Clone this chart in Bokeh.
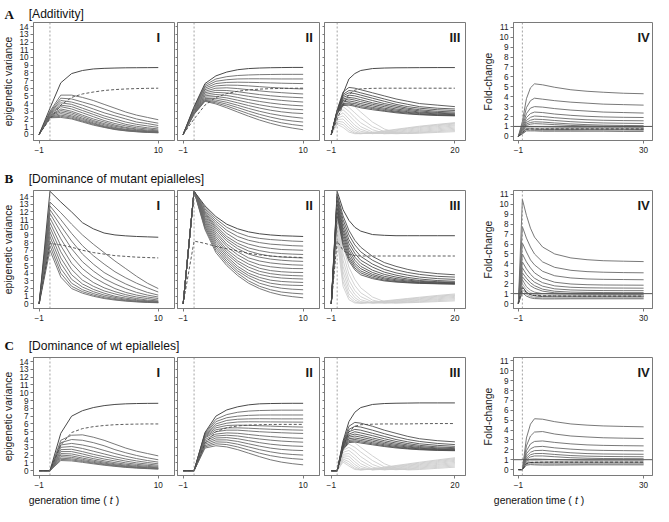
from bokeh.plotting import figure
from bokeh.layouts import column, row
from bokeh.models import Range1d, FixedTicker, Span, Label
from bokeh.embed import file_html
from bokeh.resources import INLINE
from bokeh.core.properties import value

# ---------------- time grids (generation time t) ----------------
T10 = [-1, 0, 1, 2, 3, 4, 5, 6, 7, 8, 9, 10]
T20 = [-1, 0, 1, 2, 3, 4, 6, 8, 10, 12, 14, 17, 20]
T30 = [-1, 0, 1, 2, 3, 5, 8, 12, 16, 20, 25, 30]

ROW_LETTERS = ["A", "B", "C"]
ROW_TITLES = ["[Additivity]", "[Dominance of mutant epialleles]", "[Dominance of wt epialleles]"]
NUMERALS = ["I", "II", "III", "IV"]
Y_TICKS_VAR = list(range(0, 15))
Y_TICKS_FOLD = list(range(0, 12))
X_TICKS_10 = [-1, 10]
X_TICKS_20 = [-1, 20]
X_TICKS_30 = [-1, 30]
FOLD_REFERENCE = 1
Y_LABEL_VAR = "epigenetic variance"
Y_LABEL_FOLD = "Fold-change"

# ---------------- Row A: additivity ----------------
A1_top = [0, 3.4, 6.7, 7.9, 8.3, 8.5, 8.58, 8.62, 8.65, 8.66, 8.67, 8.68]
A1_dash = [0, 2.0, 3.8, 4.8, 5.25, 5.5, 5.7, 5.82, 5.9, 5.95, 5.98, 6.0]
A1_fam = [
    [0, 3.0, 5.1, 5.1, 4.8, 4.4, 3.9, 3.4, 2.9, 2.5, 2.2, 1.9],
    [0, 2.9, 4.7, 4.6, 4.2, 3.8, 3.3, 2.8, 2.4, 2.0, 1.7, 1.45],
    [0, 2.8, 4.4, 4.2, 3.8, 3.3, 2.8, 2.4, 2.0, 1.6, 1.4, 1.15],
    [0, 2.75, 4.1, 3.9, 3.4, 2.9, 2.4, 2.0, 1.6, 1.3, 1.1, 0.9],
    [0, 2.7, 3.8, 3.6, 3.1, 2.6, 2.1, 1.7, 1.3, 1.05, 0.85, 0.7],
    [0, 2.6, 3.6, 3.3, 2.8, 2.3, 1.8, 1.4, 1.1, 0.85, 0.7, 0.55],
    [0, 2.5, 3.3, 3.0, 2.5, 2.0, 1.6, 1.2, 0.9, 0.7, 0.55, 0.45],
    [0, 2.45, 3.1, 2.8, 2.3, 1.8, 1.4, 1.05, 0.8, 0.6, 0.45, 0.38],
    [0, 2.4, 2.9, 2.6, 2.1, 1.65, 1.25, 0.9, 0.65, 0.5, 0.4, 0.32],
    [0, 2.3, 2.7, 2.4, 1.95, 1.5, 1.1, 0.8, 0.6, 0.45, 0.35, 0.28],
    [0, 2.25, 2.5, 2.25, 1.8, 1.4, 1.0, 0.72, 0.52, 0.4, 0.3, 0.25],
    [0, 2.2, 2.35, 2.1, 1.7, 1.3, 0.95, 0.66, 0.48, 0.36, 0.27, 0.22],
    [0, 2.15, 2.2, 2.0, 1.6, 1.2, 0.9, 0.62, 0.45, 0.33, 0.25, 0.2],
]

A2_top = [0, 3.6, 6.6, 7.6, 8.1, 8.4, 8.55, 8.62, 8.66, 8.68, 8.7, 8.7]
A2_dash = [0, 2.0, 3.8, 4.8, 5.3, 5.6, 5.78, 5.88, 5.94, 5.97, 5.99, 6.0]
A2_fam = [
    [0, 3.5, 6.4, 7.2, 7.5, 7.65, 7.72, 7.76, 7.78, 7.8, 7.8, 7.8],
    [0, 3.4, 6.2, 6.9, 7.1, 7.2, 7.22, 7.22, 7.21, 7.2, 7.2, 7.2],
    [0, 3.3, 6.0, 6.6, 6.75, 6.78, 6.76, 6.73, 6.69, 6.65, 6.62, 6.6],
    [0, 3.2, 5.8, 6.3, 6.4, 6.38, 6.3, 6.2, 6.1, 6.02, 5.95, 5.9],
    [0, 3.1, 5.6, 6.0, 6.05, 5.95, 5.8, 5.65, 5.52, 5.42, 5.33, 5.25],
    [0, 3.0, 5.4, 5.72, 5.7, 5.55, 5.35, 5.17, 5.02, 4.9, 4.82, 4.75],
    [0, 2.95, 5.2, 5.45, 5.38, 5.18, 4.95, 4.74, 4.56, 4.42, 4.3, 4.2],
    [0, 2.9, 5.0, 5.18, 5.05, 4.8, 4.52, 4.28, 4.07, 3.9, 3.78, 3.7],
    [0, 2.85, 4.82, 4.92, 4.74, 4.44, 4.12, 3.84, 3.6, 3.41, 3.28, 3.2],
    [0, 2.8, 4.65, 4.68, 4.45, 4.1, 3.74, 3.42, 3.14, 2.93, 2.78, 2.7],
    [0, 2.75, 4.52, 4.46, 4.17, 3.78, 3.37, 3.0, 2.68, 2.43, 2.25, 2.1],
    [0, 2.7, 4.42, 4.27, 3.92, 3.48, 3.02, 2.6, 2.24, 1.94, 1.74, 1.6],
    [0, 2.65, 4.35, 4.1, 3.68, 3.18, 2.68, 2.22, 1.82, 1.5, 1.27, 1.1],
    [0, 2.6, 4.3, 3.95, 3.45, 2.9, 2.36, 1.86, 1.44, 1.08, 0.82, 0.6],
]

A3_top = [0, 3.0, 5.3, 7.2, 7.9, 8.3, 8.55, 8.62, 8.65, 8.66, 8.67, 8.68, 8.68]
A3_dash = [0, 2.0, 3.8, 5.2, 5.75, 5.92, 5.98, 6.0, 6.0, 6.0, 6.0, 6.0, 6.0]
A3_dark = [
    [0, 3.2, 5.5, 6.1, 6.0, 5.8, 5.4, 5.0, 4.6, 4.3, 4.0, 3.8, 3.6],
    [0, 3.1, 5.2, 5.7, 5.6, 5.4, 5.0, 4.6, 4.2, 3.9, 3.6, 3.4, 3.3],
    [0, 3.0, 5.0, 5.4, 5.3, 5.1, 4.7, 4.3, 3.9, 3.6, 3.4, 3.2, 3.1],
    [0, 3.0, 4.8, 5.1, 5.0, 4.8, 4.4, 4.0, 3.7, 3.4, 3.2, 3.0, 2.9],
    [0, 2.9, 4.6, 4.8, 4.7, 4.5, 4.1, 3.8, 3.5, 3.25, 3.05, 2.85, 2.75],
    [0, 2.9, 4.4, 4.6, 4.45, 4.25, 3.9, 3.6, 3.3, 3.1, 2.9, 2.75, 2.65],
    [0, 2.8, 4.2, 4.35, 4.2, 4.0, 3.7, 3.4, 3.15, 2.95, 2.8, 2.65, 2.55],
    [0, 2.8, 4.0, 4.1, 4.0, 3.8, 3.5, 3.25, 3.0, 2.85, 2.7, 2.55, 2.5],
    [0, 2.7, 3.9, 3.95, 3.8, 3.6, 3.35, 3.1, 2.9, 2.75, 2.6, 2.5, 2.45],
    [0, 2.7, 3.75, 3.8, 3.65, 3.45, 3.2, 3.0, 2.8, 2.65, 2.55, 2.45, 2.4],
]
A3_light = [
    [0, 3.1, 4.5, 4.2, 3.6, 2.9, 1.6, 0.7, 0.2, 0.1, 0.15, 0.25, 0.35],
    [0, 2.9, 4.0, 3.5, 2.8, 2.1, 1.0, 0.35, 0.1, 0.12, 0.2, 0.35, 0.5],
    [0, 2.7, 3.6, 3.0, 2.2, 1.5, 0.6, 0.15, 0.08, 0.15, 0.28, 0.45, 0.65],
    [0, 2.5, 3.2, 2.5, 1.7, 1.0, 0.3, 0.08, 0.12, 0.22, 0.38, 0.58, 0.8],
    [0, 2.3, 2.8, 2.0, 1.2, 0.65, 0.15, 0.1, 0.2, 0.32, 0.5, 0.72, 0.95],
    [0, 2.1, 2.4, 1.6, 0.85, 0.4, 0.1, 0.15, 0.28, 0.44, 0.62, 0.86, 1.1],
    [0, 1.9, 2.0, 1.2, 0.55, 0.2, 0.1, 0.22, 0.38, 0.56, 0.75, 1.0, 1.22],
    [0, 1.7, 1.6, 0.85, 0.3, 0.1, 0.15, 0.3, 0.48, 0.68, 0.88, 1.12, 1.35],
    [0, 1.5, 1.25, 0.55, 0.15, 0.08, 0.2, 0.38, 0.58, 0.78, 0.98, 1.22, 1.45],
    [0, 1.3, 0.9, 0.3, 0.08, 0.1, 0.25, 0.45, 0.66, 0.86, 1.06, 1.3, 1.52],
]

A4_upper = [
    [0, 1.5, 3.8, 4.9, 5.3, 5.2, 4.95, 4.7, 4.55, 4.45, 4.35, 4.3],
    [0, 1.2, 2.9, 3.6, 3.85, 3.75, 3.6, 3.45, 3.35, 3.25, 3.2, 3.15],
    [0, 1.0, 2.3, 2.85, 3.0, 2.95, 2.8, 2.65, 2.55, 2.45, 2.4, 2.35],
    [0, 0.85, 1.9, 2.3, 2.45, 2.4, 2.25, 2.12, 2.02, 1.96, 1.92, 1.9],
    [0, 0.75, 1.6, 1.92, 2.05, 2.0, 1.88, 1.76, 1.67, 1.62, 1.59, 1.57],
    [0, 0.65, 1.4, 1.63, 1.73, 1.7, 1.6, 1.48, 1.4, 1.35, 1.32, 1.3],
    [0, 0.58, 1.25, 1.4, 1.47, 1.44, 1.35, 1.25, 1.18, 1.13, 1.1, 1.08],
    [0, 0.5, 1.1, 1.23, 1.28, 1.25, 1.18, 1.1, 1.05, 1.02, 1.0, 0.98],
]
A4_bundle = [
    [0, 0.45, 0.95, 1.0, 0.98, 0.95, 0.92, 0.9, 0.9, 0.9, 0.9, 0.9],
    [0, 0.4, 0.85, 0.88, 0.85, 0.82, 0.8, 0.8, 0.8, 0.8, 0.8, 0.8],
    [0, 0.35, 0.75, 0.75, 0.72, 0.7, 0.7, 0.7, 0.7, 0.7, 0.7, 0.7],
    [0, 0.3, 0.65, 0.65, 0.62, 0.6, 0.6, 0.6, 0.62, 0.62, 0.62, 0.6],
    [0, 0.25, 0.55, 0.55, 0.55, 0.52, 0.52, 0.52, 0.52, 0.52, 0.5, 0.5],
]
A4_dash = [0, 0.35, 0.7, 0.75, 0.75, 0.75, 0.75, 0.75, 0.75, 0.75, 0.75, 0.75]

# ---------------- Row B: dominance of mutant epialleles ----------------
B1_top = [0, 14.7, 13.3, 12.0, 10.6, 9.8, 9.25, 9.0, 8.88, 8.8, 8.75, 8.7]
B1_dash = [0, 7.9, 7.7, 7.4, 7.0, 6.7, 6.5, 6.3, 6.2, 6.1, 6.05, 6.0]
B1_fam = [
    [0, 13.3, 11.9, 10.4, 9.0, 7.8, 6.7, 5.6, 4.6, 3.6, 2.7, 2.0],
    [0, 12.8, 11.0, 9.2, 7.6, 6.3, 5.2, 4.2, 3.4, 2.7, 2.1, 1.55],
    [0, 12.3, 10.2, 8.2, 6.5, 5.2, 4.1, 3.3, 2.6, 2.0, 1.5, 1.15],
    [0, 11.8, 9.4, 7.2, 5.5, 4.3, 3.3, 2.6, 2.0, 1.5, 1.15, 0.9],
    [0, 11.2, 8.5, 6.2, 4.6, 3.5, 2.7, 2.0, 1.5, 1.15, 0.9, 0.7],
    [0, 10.6, 7.6, 5.3, 3.8, 2.8, 2.1, 1.6, 1.2, 0.9, 0.7, 0.5],
    [0, 10.0, 6.8, 4.5, 3.1, 2.3, 1.7, 1.3, 0.95, 0.7, 0.5, 0.38],
    [0, 9.4, 6.0, 3.8, 2.6, 1.9, 1.4, 1.0, 0.75, 0.55, 0.4, 0.3],
    [0, 8.8, 5.3, 3.2, 2.2, 1.6, 1.15, 0.85, 0.6, 0.45, 0.32, 0.24],
    [0, 8.2, 4.6, 2.7, 1.85, 1.35, 0.95, 0.7, 0.5, 0.36, 0.26, 0.2],
    [0, 7.6, 4.0, 2.3, 1.6, 1.15, 0.8, 0.58, 0.42, 0.3, 0.22, 0.17],
    [0, 7.0, 3.5, 2.0, 1.4, 1.0, 0.7, 0.5, 0.36, 0.26, 0.19, 0.15],
]

B2_top = [0, 14.7, 12.8, 11.4, 10.4, 9.8, 9.4, 9.15, 9.0, 8.9, 8.85, 8.8]
B2_dash = [0, 8.2, 7.9, 7.5, 7.2, 6.9, 6.6, 6.4, 6.25, 6.15, 6.1, 6.05]
B2_fam = [
    [0, 14.7, 12.6, 11.1, 10.0, 9.3, 8.8, 8.55, 8.4, 8.3, 8.2, 8.15],
    [0, 14.7, 12.4, 10.8, 9.6, 8.8, 8.3, 8.0, 7.8, 7.7, 7.6, 7.55],
    [0, 14.7, 12.2, 10.5, 9.2, 8.3, 7.8, 7.45, 7.25, 7.1, 7.05, 7.0],
    [0, 14.7, 12.0, 10.2, 8.8, 7.9, 7.3, 6.95, 6.7, 6.57, 6.5, 6.45],
    [0, 14.7, 11.85, 9.95, 8.5, 7.55, 6.9, 6.5, 6.25, 6.12, 6.05, 6.0],
    [0, 14.7, 11.7, 9.7, 8.2, 7.2, 6.5, 6.1, 5.85, 5.7, 5.6, 5.55],
    [0, 14.7, 11.5, 9.4, 7.8, 6.8, 6.0, 5.6, 5.35, 5.2, 5.1, 5.05],
    [0, 14.7, 11.3, 9.1, 7.5, 6.4, 5.6, 5.1, 4.85, 4.7, 4.62, 4.6],
    [0, 14.7, 11.1, 8.8, 7.1, 6.0, 5.2, 4.65, 4.35, 4.2, 4.12, 4.1],
    [0, 14.7, 10.9, 8.5, 6.8, 5.6, 4.8, 4.25, 3.95, 3.78, 3.7, 3.65],
    [0, 14.7, 10.7, 8.2, 6.5, 5.3, 4.4, 3.85, 3.55, 3.38, 3.3, 3.25],
    [0, 14.7, 10.5, 7.9, 6.2, 4.9, 4.0, 3.45, 3.1, 2.93, 2.85, 2.8],
    [0, 14.7, 10.3, 7.6, 5.9, 4.6, 3.7, 3.1, 2.7, 2.5, 2.43, 2.4],
    [0, 14.7, 10.1, 7.3, 5.6, 4.3, 3.4, 2.7, 2.3, 2.05, 1.92, 1.85],
    [0, 14.7, 9.9, 7.0, 5.3, 4.0, 3.0, 2.3, 1.85, 1.55, 1.4, 1.3],
    [0, 14.7, 9.7, 6.7, 5.0, 3.7, 2.7, 2.0, 1.5, 1.15, 0.95, 0.8],
]

B3_top = [0, 14.7, 12.3, 10.9, 10.0, 9.5, 9.05, 8.95, 8.9, 8.9, 8.9, 8.9, 8.9]
B3_dash = [0, 8.2, 7.0, 6.5, 6.3, 6.25, 6.25, 6.25, 6.25, 6.25, 6.25, 6.25, 6.25]
B3_dark = [
    [0, 14.3, 11.5, 9.6, 8.3, 7.4, 6.2, 5.4, 4.9, 4.5, 4.2, 3.95, 3.8],
    [0, 14.0, 11.0, 9.0, 7.7, 6.8, 5.7, 4.95, 4.45, 4.1, 3.85, 3.6, 3.5],
    [0, 13.7, 10.5, 8.4, 7.1, 6.2, 5.2, 4.5, 4.05, 3.75, 3.5, 3.3, 3.2],
    [0, 13.4, 10.0, 7.9, 6.6, 5.7, 4.8, 4.15, 3.75, 3.45, 3.25, 3.05, 2.95],
    [0, 13.1, 9.6, 7.4, 6.1, 5.3, 4.4, 3.85, 3.5, 3.25, 3.05, 2.9, 2.82],
    [0, 12.8, 9.2, 7.0, 5.7, 4.9, 4.1, 3.6, 3.3, 3.1, 2.95, 2.82, 2.75],
    [0, 12.5, 8.8, 6.6, 5.3, 4.6, 3.85, 3.4, 3.15, 2.98, 2.85, 2.75, 2.7],
    [0, 12.2, 8.4, 6.2, 5.0, 4.3, 3.65, 3.25, 3.02, 2.88, 2.78, 2.7, 2.65],
    [0, 11.9, 8.0, 5.9, 4.7, 4.05, 3.45, 3.1, 2.92, 2.8, 2.72, 2.65, 2.6],
    [0, 11.6, 7.6, 5.6, 4.45, 3.8, 3.3, 3.0, 2.85, 2.75, 2.68, 2.62, 2.58],
]
B3_light = [
    [0, 12.5, 7.6, 4.8, 3.2, 2.1, 0.9, 0.3, 0.12, 0.15, 0.2, 0.3, 0.4],
    [0, 12.0, 6.6, 3.9, 2.4, 1.45, 0.5, 0.15, 0.12, 0.2, 0.28, 0.42, 0.55],
    [0, 11.4, 5.7, 3.1, 1.75, 0.95, 0.25, 0.1, 0.18, 0.28, 0.38, 0.55, 0.7],
    [0, 10.8, 4.9, 2.45, 1.25, 0.55, 0.12, 0.15, 0.25, 0.36, 0.48, 0.66, 0.85],
    [0, 10.2, 4.2, 1.85, 0.82, 0.3, 0.1, 0.2, 0.32, 0.45, 0.58, 0.78, 0.98],
    [0, 9.6, 3.5, 1.3, 0.5, 0.15, 0.15, 0.27, 0.4, 0.54, 0.68, 0.9, 1.1],
    [0, 9.0, 2.9, 0.9, 0.25, 0.08, 0.2, 0.33, 0.48, 0.63, 0.78, 1.0, 1.2],
    [0, 8.4, 2.3, 0.55, 0.12, 0.1, 0.24, 0.39, 0.55, 0.71, 0.87, 1.1, 1.3],
]

B4_upper = [
    [0, 10.5, 8.9, 7.6, 6.7, 5.7, 5.0, 4.6, 4.42, 4.32, 4.27, 4.23],
    [0, 7.75, 6.6, 5.7, 5.0, 4.2, 3.65, 3.35, 3.22, 3.16, 3.12, 3.1],
    [0, 6.1, 5.2, 4.4, 3.9, 3.25, 2.8, 2.58, 2.48, 2.44, 2.42, 2.4],
    [0, 5.0, 4.2, 3.6, 3.1, 2.55, 2.15, 1.97, 1.9, 1.87, 1.86, 1.85],
    [0, 4.2, 3.5, 2.95, 2.55, 2.1, 1.78, 1.64, 1.59, 1.57, 1.56, 1.55],
    [0, 3.6, 2.95, 2.5, 2.15, 1.75, 1.48, 1.37, 1.33, 1.31, 1.3, 1.3],
    [0, 3.1, 2.55, 2.1, 1.8, 1.45, 1.24, 1.15, 1.12, 1.11, 1.1, 1.1],
    [0, 2.7, 2.2, 1.8, 1.55, 1.25, 1.08, 1.0, 0.98, 0.97, 0.97, 0.97],
]
B4_bundle = [
    [0, 2.4, 1.7, 1.35, 1.15, 1.0, 0.95, 0.93, 0.92, 0.92, 0.92, 0.92],
    [0, 2.0, 1.4, 1.1, 0.95, 0.85, 0.8, 0.8, 0.8, 0.8, 0.8, 0.8],
    [0, 1.7, 1.15, 0.9, 0.78, 0.7, 0.68, 0.68, 0.68, 0.68, 0.68, 0.68],
    [0, 1.4, 0.95, 0.72, 0.62, 0.57, 0.56, 0.56, 0.57, 0.57, 0.57, 0.57],
    [0, 1.1, 0.75, 0.58, 0.5, 0.47, 0.47, 0.48, 0.48, 0.48, 0.48, 0.48],
]
B4_dash = [0, 1.6, 1.1, 0.9, 0.82, 0.78, 0.76, 0.75, 0.75, 0.75, 0.75, 0.75]

# ---------------- Row C: dominance of wt epialleles ----------------
C1_top = [0, 0, 4.8, 7.0, 7.7, 8.1, 8.35, 8.5, 8.58, 8.62, 8.64, 8.65]
C1_dash = [0, 0, 3.3, 4.9, 5.4, 5.65, 5.8, 5.9, 5.95, 5.98, 6.0, 6.0]
C1_fam = [
    [0, 0, 3.9, 4.55, 4.6, 4.3, 3.9, 3.4, 2.9, 2.5, 2.2, 1.9],
    [0, 0, 3.6, 4.0, 3.9, 3.6, 3.2, 2.7, 2.3, 1.95, 1.65, 1.4],
    [0, 0, 3.3, 3.5, 3.3, 3.0, 2.6, 2.2, 1.85, 1.55, 1.3, 1.1],
    [0, 0, 3.0, 3.1, 2.85, 2.5, 2.15, 1.8, 1.5, 1.25, 1.05, 0.88],
    [0, 0, 2.7, 2.75, 2.45, 2.1, 1.8, 1.5, 1.23, 1.0, 0.85, 0.7],
    [0, 0, 2.45, 2.45, 2.15, 1.8, 1.5, 1.25, 1.0, 0.82, 0.68, 0.56],
    [0, 0, 2.2, 2.15, 1.85, 1.55, 1.27, 1.03, 0.83, 0.67, 0.55, 0.45],
    [0, 0, 2.0, 1.9, 1.62, 1.35, 1.1, 0.88, 0.7, 0.56, 0.45, 0.37],
    [0, 0, 1.8, 1.7, 1.45, 1.2, 0.97, 0.77, 0.6, 0.47, 0.38, 0.31],
    [0, 0, 1.6, 1.52, 1.3, 1.07, 0.86, 0.68, 0.53, 0.41, 0.33, 0.27],
    [0, 0, 1.45, 1.38, 1.18, 0.97, 0.78, 0.61, 0.47, 0.37, 0.29, 0.23],
    [0, 0, 1.3, 1.25, 1.07, 0.88, 0.7, 0.55, 0.42, 0.33, 0.26, 0.2],
]

C2_top = [0, 0, 4.9, 7.0, 7.8, 8.2, 8.45, 8.58, 8.62, 8.64, 8.65, 8.65]
C2_dash = [0, 0, 3.5, 5.0, 5.5, 5.75, 5.85, 5.9, 5.93, 5.94, 5.94, 5.94]
C2_fam = [
    [0, 0, 4.8, 6.6, 7.2, 7.5, 7.65, 7.72, 7.75, 7.77, 7.77, 7.77],
    [0, 0, 4.7, 6.3, 6.8, 7.0, 7.1, 7.14, 7.15, 7.15, 7.15, 7.15],
    [0, 0, 4.6, 6.0, 6.45, 6.6, 6.65, 6.67, 6.66, 6.65, 6.65, 6.65],
    [0, 0, 4.5, 5.75, 6.1, 6.25, 6.28, 6.27, 6.26, 6.25, 6.24, 6.23],
    [0, 0, 4.4, 5.5, 5.8, 5.85, 5.82, 5.77, 5.72, 5.67, 5.63, 5.6],
    [0, 0, 4.3, 5.25, 5.5, 5.5, 5.45, 5.38, 5.32, 5.27, 5.23, 5.2],
    [0, 0, 4.2, 5.0, 5.2, 5.2, 5.1, 5.0, 4.93, 4.87, 4.82, 4.78],
    [0, 0, 4.0, 4.7, 4.85, 4.8, 4.65, 4.5, 4.38, 4.28, 4.2, 4.15],
    [0, 0, 3.8, 4.45, 4.55, 4.45, 4.25, 4.07, 3.92, 3.8, 3.72, 3.66],
    [0, 0, 3.6, 4.2, 4.25, 4.1, 3.85, 3.6, 3.4, 3.26, 3.17, 3.12],
    [0, 0, 3.4, 3.95, 3.95, 3.75, 3.45, 3.15, 2.9, 2.73, 2.63, 2.58],
    [0, 0, 3.2, 3.7, 3.65, 3.4, 3.05, 2.7, 2.42, 2.2, 2.08, 2.0],
    [0, 0, 3.05, 3.45, 3.35, 3.05, 2.65, 2.25, 1.93, 1.7, 1.55, 1.45],
    [0, 0, 2.9, 3.2, 3.05, 2.7, 2.25, 1.8, 1.4, 1.1, 0.9, 0.75],
]

C3_top = [0, 0, 3.8, 6.3, 7.5, 8.1, 8.5, 8.62, 8.66, 8.68, 8.7, 8.7, 8.7]
C3_dash = [0, 0, 3.0, 5.0, 5.7, 5.9, 5.97, 6.0, 6.0, 6.0, 6.03, 6.05, 6.05]
C3_dark = [
    [0, 0, 3.6, 5.7, 6.2, 6.1, 5.7, 5.2, 4.8, 4.4, 4.1, 3.85, 3.7],
    [0, 0, 3.5, 5.3, 5.7, 5.6, 5.2, 4.75, 4.35, 4.0, 3.75, 3.5, 3.35],
    [0, 0, 3.4, 5.0, 5.3, 5.2, 4.8, 4.4, 4.0, 3.7, 3.45, 3.25, 3.12],
    [0, 0, 3.3, 4.7, 5.0, 4.85, 4.5, 4.1, 3.75, 3.48, 3.25, 3.05, 2.95],
    [0, 0, 3.2, 4.5, 4.7, 4.55, 4.2, 3.85, 3.55, 3.3, 3.1, 2.92, 2.83],
    [0, 0, 3.1, 4.3, 4.45, 4.3, 3.98, 3.65, 3.38, 3.15, 2.97, 2.82, 2.74],
    [0, 0, 3.0, 4.1, 4.2, 4.07, 3.78, 3.48, 3.23, 3.03, 2.88, 2.75, 2.68],
    [0, 0, 2.9, 3.9, 4.0, 3.87, 3.6, 3.33, 3.1, 2.93, 2.8, 2.69, 2.63],
    [0, 0, 2.8, 3.75, 3.83, 3.7, 3.45, 3.2, 3.0, 2.85, 2.74, 2.64, 2.59],
    [0, 0, 2.7, 3.6, 3.68, 3.55, 3.32, 3.1, 2.92, 2.79, 2.69, 2.6, 2.56],
]
C3_light = [
    [0, 0, 3.2, 3.9, 3.6, 3.0, 1.9, 0.9, 0.3, 0.1, 0.15, 0.3, 0.45],
    [0, 0, 2.9, 3.4, 3.0, 2.4, 1.3, 0.5, 0.15, 0.15, 0.25, 0.42, 0.6],
    [0, 0, 2.6, 3.0, 2.5, 1.8, 0.8, 0.25, 0.12, 0.22, 0.35, 0.55, 0.75],
    [0, 0, 2.35, 2.6, 2.0, 1.3, 0.45, 0.12, 0.18, 0.3, 0.45, 0.68, 0.9],
    [0, 0, 2.1, 2.2, 1.55, 0.9, 0.2, 0.12, 0.25, 0.4, 0.56, 0.8, 1.05],
    [0, 0, 1.9, 1.85, 1.15, 0.55, 0.1, 0.18, 0.33, 0.5, 0.67, 0.93, 1.2],
    [0, 0, 1.7, 1.5, 0.8, 0.3, 0.12, 0.25, 0.42, 0.6, 0.78, 1.05, 1.33],
    [0, 0, 1.5, 1.15, 0.5, 0.15, 0.15, 0.32, 0.5, 0.69, 0.88, 1.17, 1.45],
    [0, 0, 1.3, 0.85, 0.28, 0.1, 0.2, 0.38, 0.58, 0.78, 0.98, 1.28, 1.56],
    [0, 0, 1.1, 0.6, 0.15, 0.1, 0.25, 0.45, 0.66, 0.87, 1.08, 1.38, 1.66],
]

C4_upper = [
    [0, 0, 3.2, 4.6, 5.15, 5.1, 4.85, 4.62, 4.5, 4.42, 4.37, 4.33],
    [0, 0, 2.4, 3.4, 3.8, 3.85, 3.6, 3.4, 3.3, 3.22, 3.18, 3.15],
    [0, 0, 1.9, 2.6, 2.85, 2.9, 2.75, 2.6, 2.5, 2.45, 2.42, 2.4],
    [0, 0, 1.6, 2.1, 2.3, 2.35, 2.2, 2.07, 1.98, 1.94, 1.92, 1.9],
    [0, 0, 1.35, 1.75, 1.92, 1.95, 1.83, 1.7, 1.62, 1.58, 1.56, 1.55],
    [0, 0, 1.15, 1.5, 1.62, 1.63, 1.53, 1.42, 1.36, 1.33, 1.31, 1.3],
    [0, 0, 1.0, 1.28, 1.38, 1.38, 1.3, 1.2, 1.15, 1.12, 1.11, 1.1],
]
C4_bundle = [
    [0, 0, 0.85, 1.05, 1.08, 1.05, 1.0, 0.97, 0.95, 0.95, 0.95, 0.95],
    [0, 0, 0.75, 0.88, 0.88, 0.85, 0.82, 0.8, 0.8, 0.8, 0.8, 0.8],
    [0, 0, 0.65, 0.72, 0.7, 0.68, 0.67, 0.67, 0.67, 0.67, 0.67, 0.67],
    [0, 0, 0.55, 0.6, 0.58, 0.56, 0.55, 0.55, 0.56, 0.57, 0.57, 0.57],
    [0, 0, 0.45, 0.5, 0.48, 0.46, 0.46, 0.47, 0.48, 0.48, 0.48, 0.48],
]
C4_dash = [0, 0, 0.6, 0.72, 0.74, 0.75, 0.75, 0.75, 0.75, 0.75, 0.75, 0.75]

# ---------------- styling / geometry ----------------
S = 0.97                      # overall scale so the page fits the window
REF_W = 669
COL_GEOM = [(30, 145, 1), (2, 146, 2), (3, 145, 2), (47, 143, 3)]   # left border, frame, right border
ROW_GEOM = [(1, 122, 23), (1, 122, 22), (1, 122, 17)]              # top border, frame, bottom border
HEADER_H = [22, 28, 28]
HEADER_BASE = [7.5, 11, 11]
FOOTER_H = 15
FOOTER_BASE = 6.3
SANS = "Liberation Sans"
SERIF = "Liberation Serif"
BOX = "#7a7a7a"
TXT = "#222222"
TOP_C = "#4a4a4a"
FAM_C = "#6a6a6a"
DARK_C = "#4f4f4f"
LIGHT_C = "#cdcdcd"
DASH_C = "#4a4a4a"
BUNDLE_C = ["#8a8a8a", "#b4b4b4", "#5a5a5a", "#a8a8a8", "#6e6e6e"]


def sc(v):
    return int(round(v * S))


def px(v):
    return f"{v * S:.1f}px"


def make_panel(ri, ci, t, layers, xr, yr, xticks, yticks, ylabel, numeral_x, hline=None):
    lb, fw, rb = COL_GEOM[ci]
    tb, fh, bb = ROW_GEOM[ri]
    p = figure(title=None, frame_width=sc(fw), frame_height=sc(fh),
               min_border_left=sc(lb), min_border_right=sc(rb),
               min_border_top=sc(tb), min_border_bottom=sc(bb),
               x_range=Range1d(*xr), y_range=Range1d(*yr),
               output_backend="svg", toolbar_location=None, tools="")
    p.xgrid.visible = False
    p.ygrid.visible = False
    p.outline_line_color = BOX
    p.outline_line_width = 1
    p.background_fill_color = "white"
    p.border_fill_color = "white"

    xa = p.xaxis[0]
    xa.ticker = FixedTicker(ticks=xticks, minor_ticks=[])
    ya = p.yaxis[0]
    for ax in (xa, ya):
        ax.axis_line_color = BOX
        ax.major_tick_line_color = BOX
        ax.minor_tick_line_color = BOX
        ax.major_tick_out = 3
        ax.major_tick_in = 0
        ax.minor_tick_out = 0
        ax.minor_tick_in = 0
        ax.major_label_text_font = SANS
        ax.major_label_text_font_size = px(8.5)
        ax.major_label_text_color = TXT
    xa.major_label_standoff = 3
    ya.major_label_standoff = 2
    if ylabel is None:
        # unlabeled tick marks only: use minor ticks so no tick labels exist
        ya.ticker = FixedTicker(ticks=[], minor_ticks=yticks)
        ya.minor_tick_out = 2
        ya.major_tick_out = 0
        ya.major_label_standoff = 0
    else:
        ya.ticker = FixedTicker(ticks=yticks, minor_ticks=[])
        ya.axis_label = ylabel
        ya.axis_label_text_font = SANS
        ya.axis_label_text_font_size = px(10.75)
        ya.axis_label_text_font_style = "normal"
        ya.axis_label_text_color = TXT
        ya.axis_label_standoff = 2

    p.add_layout(Span(location=0, dimension="height", line_color="#8c8c8c",
                      line_width=0.8, line_dash="2 2"))
    if hline is not None:
        p.add_layout(Span(location=hline, dimension="width", line_color="#555555",
                          line_width=1))
    for ys, color, width, dash in layers:
        p.multi_line(xs=[t] * len(ys), ys=ys, line_color=color,
                     line_width=width, line_dash=dash)

    ny = yr[1] - 15.0 / fh * (yr[1] - yr[0])
    p.add_layout(Label(x=numeral_x, y=ny, text=NUMERALS[ci], text_font=SANS,
                       text_font_size=px(13.5), text_font_style="bold",
                       text_align="center", text_baseline="middle",
                       text_color="#1a1a1a"))
    return p


TOTAL_W = sum(sc(l) + sc(f) + sc(r) for l, f, r in COL_GEOM)


def make_strip(h_ref, items):
    p = figure(title=None, width=TOTAL_W, height=sc(h_ref), x_range=Range1d(0, REF_W),
               y_range=Range1d(0, h_ref), min_border=0,
               output_backend="svg", toolbar_location=None, tools="",
               x_axis_location=None, y_axis_location=None)
    p.xgrid.visible = False
    p.ygrid.visible = False
    p.outline_line_color = None
    for x, y, txt, font, size, style in items:
        p.text(x=[x], y=[y], text=[txt], text_font=value(font),
               text_font_size=value(size), text_font_style=value(style),
               text_align=value("left"), text_baseline=value("alphabetic"),
               text_color=value("#111111"))
    return p


def header(ri):
    h = HEADER_H[ri]
    yb = HEADER_BASE[ri]
    return make_strip(h, [
        (4, yb, ROW_LETTERS[ri], SERIF, px(13.5), "bold"),
        (29, yb, ROW_TITLES[ri], SANS, px(12.5), "normal"),
    ])


def footer():
    fs = 10.75 * S
    em = fs / (TOTAL_W / REF_W)
    items = []
    for x0 in (29, 507):
        items.append((x0, FOOTER_BASE, "generation time (", SANS, px(10.75), "normal"))
        items.append((x0 + 7.781 * em, FOOTER_BASE, "t", SANS, px(10.75), "italic"))
        items.append((x0 + 8.337 * em, FOOTER_BASE, ")", SANS, px(10.75), "normal"))
    return make_strip(FOOTER_H, items)


XR10 = (-1.52, 11.5)
XR20 = (-2.15, 21.8)
XR30 = (-2.2, 32.2)
YR = [(-0.8, 14.54), (-0.6, 14.8), (-0.62, 14.53)]
YR4 = [(-0.42, 11.49), (-0.5, 11.4), (-0.6, 11.35)]

rows_data = [
    dict(top1=A1_top, dash1=A1_dash, fam1=A1_fam,
         top2=A2_top, dash2=A2_dash, fam2=A2_fam,
         top3=A3_top, dash3=A3_dash, dark3=A3_dark, light3=A3_light,
         up4=A4_upper, bun4=A4_bundle, dash4=A4_dash),
    dict(top1=B1_top, dash1=B1_dash, fam1=B1_fam,
         top2=B2_top, dash2=B2_dash, fam2=B2_fam,
         top3=B3_top, dash3=B3_dash, dark3=B3_dark, light3=B3_light,
         up4=B4_upper, bun4=B4_bundle, dash4=B4_dash),
    dict(top1=C1_top, dash1=C1_dash, fam1=C1_fam,
         top2=C2_top, dash2=C2_dash, fam2=C2_fam,
         top3=C3_top, dash3=C3_dash, dark3=C3_dark, light3=C3_light,
         up4=C4_upper, bun4=C4_bundle, dash4=C4_dash),
]

blocks = []
for ri, d in enumerate(rows_data):
    p1 = make_panel(ri, 0, T10, [
        (d["fam1"], FAM_C, 0.9, "solid"),
        ([d["dash1"]], DASH_C, 0.9, "3 2"),
        ([d["top1"]], TOP_C, 1.0, "solid"),
    ], XR10, YR[ri], X_TICKS_10, Y_TICKS_VAR, Y_LABEL_VAR, 10)
    p2 = make_panel(ri, 1, T10, [
        (d["fam2"], FAM_C, 0.9, "solid"),
        ([d["dash2"]], DASH_C, 0.9, "3 2"),
        ([d["top2"]], TOP_C, 1.0, "solid"),
    ], XR10, YR[ri], X_TICKS_10, Y_TICKS_VAR, None, 10.55)
    p3 = make_panel(ri, 2, T20, [
        (d["light3"], LIGHT_C, 0.9, "solid"),
        (d["dark3"], DARK_C, 0.9, "solid"),
        ([d["dash3"]], DASH_C, 0.9, "3 2"),
        ([d["top3"]], TOP_C, 1.0, "solid"),
    ], XR20, YR[ri], X_TICKS_20, Y_TICKS_VAR, None, 20)
    p4 = make_panel(ri, 3, T30, [
        (d["bun4"], BUNDLE_C, 1.0, "solid"),
        (d["up4"], FAM_C, 0.9, "solid"),
        ([d["dash4"]], "#333333", 0.9, "3 2"),
    ], XR30, YR4[ri], X_TICKS_30, Y_TICKS_FOLD, Y_LABEL_FOLD, 30, hline=FOLD_REFERENCE)
    blocks.append(header(ri))
    blocks.append(row(p1, p2, p3, p4, spacing=0))

blocks.append(footer())
layout = column(*blocks, spacing=0)

open("out.html", "w").write(file_html(layout, INLINE))
